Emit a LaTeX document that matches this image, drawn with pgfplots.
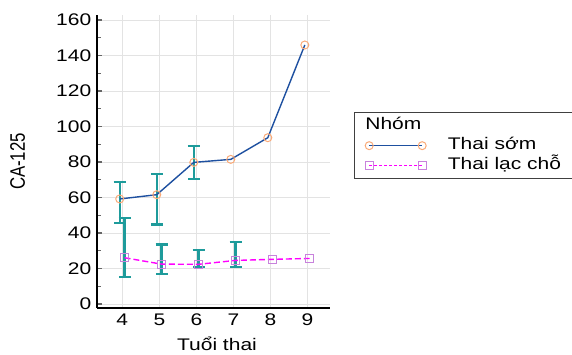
\documentclass[border=0pt]{standalone}
\usepackage{fontspec}
\setmainfont{Liberation Sans}[FakeStretch=1.25]
\newfontfamily\plainfont{Liberation Sans}
\usepackage{graphicx}
\usepackage{pgfplots}
\pgfplotsset{compat=1.18}
\definecolor{linblue}{RGB}{30,80,160}
\definecolor{mkorange}{RGB}{250,170,120}
\definecolor{lnpink}{RGB}{255,0,255}
\definecolor{mkpurple}{RGB}{200,130,220}
\definecolor{errteal}{RGB}{30,155,155}
\pgfplotsset{
 legsolid/.style={legend image code/.code={\draw[##1, line width=1.2pt] plot coordinates {(0pt,0pt) (53pt,0pt)}; \path (78pt,0pt);}},
 legdash/.style={legend image code/.code={\draw[##1, line width=1.2pt, dash pattern=on 3pt off 2pt] plot coordinates {(0pt,0pt) (53pt,0pt)}; \path (78pt,0pt);}},
 legtitle/.style={legend image code/.code={\node[anchor=base west, inner sep=0pt] at (-4pt,-3pt){Nhóm};}},
}
\pgfplotstableread{
x y ep em
3.93 59.2 9.4 13.7
4.93 61.6 11.5 16.7
5.93 79.8 9.4 9.2
}\blueerr
\pgfplotstableread{
x y ep em
4.06 26.1 22.2 10.7
5.06 22.5 11.1 5.6
6.06 22.4 8.2 1.4
7.06 24.6 10.2 3.9
}\pinkerr
\begin{document}
\fontsize{16.8}{20}\selectfont
\begin{tikzpicture}
\useasboundingbox (0,0) rectangle (572pt,355pt);
\clip (0,0) rectangle (572pt,355pt);
\begin{axis}[
 at={(97pt,47pt)}, anchor=south west, scale only axis, width=233pt, height=293pt,
 xmin=3.316, xmax=9.61, ymin=-2.2, ymax=162.8,
 axis lines*=left, axis line style={line width=1.3pt},
 xtick={4,...,9}, ytick={0,20,...,160}, minor ytick={10,30,...,150},
 grid=major, major grid style={gray!22, line width=0.8pt},
 xtick style={draw=none},
 ytick style={gray!80!black, line width=1.2pt}, major tick length=5pt, minor tick length=3.5pt,
 ytick pos=left, tick align=inside,
 /pgf/number format/assume math mode=true,
 ticklabel style={font=\fontsize{16.8}{20}\selectfont},
 xlabel={Tuổi thai}, ylabel={\scalebox{1}[1.25]{\plainfont\fontsize{16.8}{20}\selectfont CA-125}},
 xlabel style={at={(axis description cs:0.515,-0.145)}, anchor=base},
 ylabel style={at={(axis description cs:-0.341,0.5)}, anchor=center},
 label style={font=\fontsize{16.8}{20}\selectfont},
 legend style={at={(axis description cs:1.103,0.669)}, anchor=north west,
   draw=none, fill=none, inner xsep=11pt, inner ysep=5pt,
   font=\fontsize{16.8}{20}\selectfont,
   nodes={inner sep=0pt, text height=12pt, text depth=4pt}, row sep=3.5pt},
 legend cell align=left,
]
\addlegendimage{legtitle}
\addlegendentry{}
\addplot[draw=none, mark=none, forget plot,
  error bars/.cd, y dir=both, y explicit,
  error bar style={errteal, line width=2.3pt},
  error mark options={errteal, line width=2.3pt, mark size=6pt, rotate=90}]
  table[x=x, y=y, y error plus=ep, y error minus=em]{\blueerr};
\addplot[draw=none, mark=none, forget plot,
  error bars/.cd, y dir=both, y explicit,
  error bar style={errteal, line width=2.3pt},
  error mark options={errteal, line width=2.3pt, mark size=6pt, rotate=90}]
  table[x=x, y=y, y error plus=ep, y error minus=em]{\pinkerr};
\addplot[linblue, line width=1.4pt, mark=o, mark size=4pt,
  mark options={draw=mkorange, fill=white, solid, line width=1pt}, legsolid]
  coordinates {(3.93,59.2) (4.93,61.6) (5.93,79.8) (6.93,81.5) (7.93,93.7) (8.93,145.9)};
\addlegendentry{Thai sớm}
\addplot[lnpink, line width=1.4pt, dash pattern=on 6pt off 3pt, mark=square, mark size=4pt,
  mark options={draw=mkpurple, fill=white, solid, line width=1pt}, legdash]
  coordinates {(4.06,26.1) (5.06,22.5) (6.06,22.4) (7.06,24.6) (8.06,25.2) (9.06,25.7)};
\addlegendentry{Thai lạc chỗ}
\end{axis}
\draw[black!75, line width=0.8pt] (590pt,243pt) -- (354pt,243pt) -- (354pt,177pt) -- (590pt,177pt);
\end{tikzpicture}
\end{document}
